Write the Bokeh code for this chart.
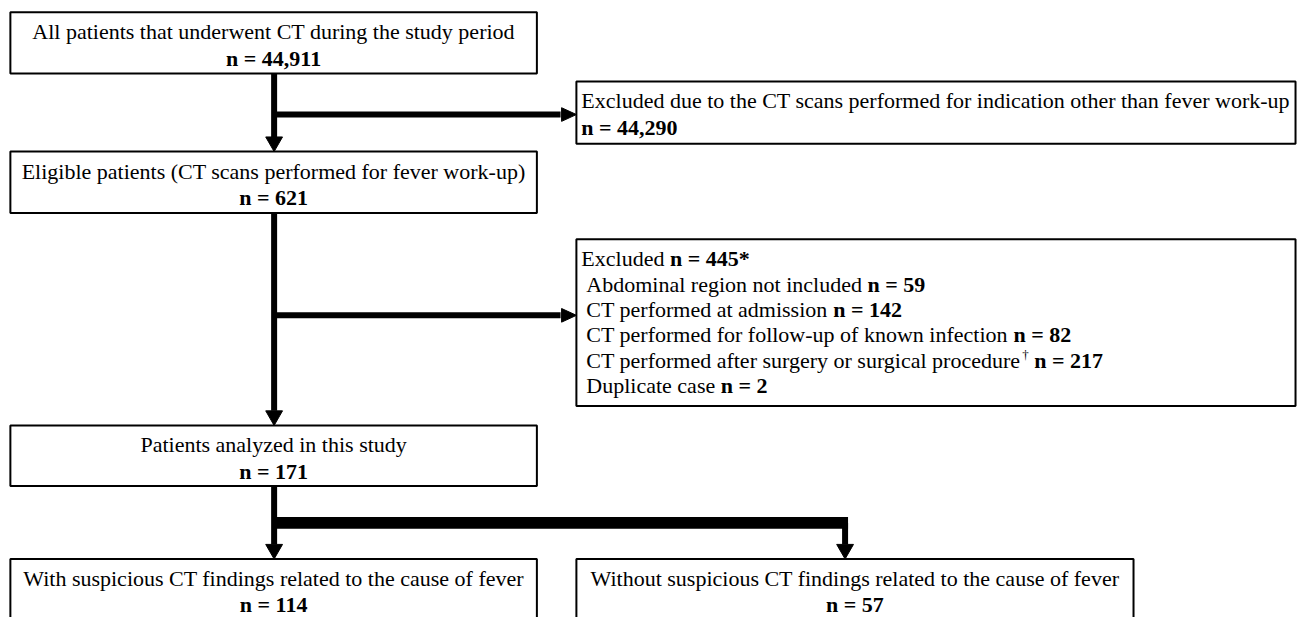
from bokeh.plotting import figure
from bokeh.models import Range1d
from bokeh.core.properties import value
from bokeh.embed import file_html
from bokeh.resources import INLINE

# ---------------- data ----------------
main_labels = ["All patients that underwent CT during the study period",
               "Eligible patients (CT scans performed for fever work-up)",
               "Patients analyzed in this study"]
main_n = [44911, 621, 171]
excl1_label = "Excluded due to the CT scans performed for indication other than fever work-up"
excl1_n = 44290
excl2_head = "Excluded"
excl2_total = "445*"
excl2_reasons = ["Abdominal region not included",
                 "CT performed at admission",
                 "CT performed for follow-up of known infection",
                 "CT performed after surgery or surgical procedure",
                 "Duplicate case"]
excl2_n = [59, 142, 82, 217, 2]
excl2_marks = ["", "", "", "\u2020", ""]
group_labels = ["With suspicious CT findings related to the cause of fever",
                "Without suspicious CT findings related to the cause of fever"]
group_n = [114, 57]

# ---------------- layout ----------------
FONT = value("Liberation Serif")
FS = 22
W, H = 1297, 617
SX = W / 1313.0   # px per data unit horizontally

TR = {' ': 250, '-': 333, '(': 333, ')': 333, ',': 250, '.': 250, '=': 564, '*': 500, '\u2020': 500}
for c, w in zip("ABCDEFGHIJKLMNOPQRSTUVWXYZ",
                [722, 667, 667, 722, 611, 556, 722, 722, 333, 389, 722, 611, 889, 722, 722, 556, 722, 667, 556, 611, 722, 722, 944, 722, 722, 611]):
    TR[c] = w
for c, w in zip("abcdefghijklmnopqrstuvwxyz",
                [444, 500, 444, 500, 444, 333, 500, 500, 278, 278, 500, 278, 778, 500, 500, 500, 500, 333, 389, 278, 500, 500, 722, 500, 500, 444]):
    TR[c] = w
for d in "0123456789":
    TR[d] = 500


def tw(s, size=FS):
    return sum(TR.get(c, 500) for c in s) * size / 1000.0 / SX


def nstr(n):
    return "n = " + format(n, ",") if isinstance(n, int) else "n = " + n


p = figure(width=W, height=H, x_range=Range1d(0, 1313), y_range=Range1d(633, 0),
           output_backend="svg", toolbar_location=None, x_axis_type=None, y_axis_type=None,
           min_border=0)
p.grid.visible = False
p.outline_line_color = None
p.background_fill_color = "white"

LW = 6
CX = 277
CX2 = 855

# boxes: left, right, top, bottom
main_boxes = [(10, 543, 12, 75), (10, 543, 155, 218), (10, 543, 436, 498)]
group_boxes = [(10, 543, 573, 700), (583, 1147, 573, 700)]
excl_boxes = [(583, 1311, 83, 147), (583, 1311, 245, 416)]
allb = main_boxes + group_boxes + excl_boxes
p.quad(left=[b[0] for b in allb], right=[b[1] for b in allb],
       top=[b[2] for b in allb], bottom=[b[3] for b in allb],
       fill_color="white", line_color="black", line_width=2)

# connector lines
AH = 15
AW = 8.5
segs = [
    (CX, 75, CX, 155 - AH),
    (CX, 117, 582 - AH, 117),
    (CX, 218, CX, 436 - AH),
    (CX, 323, 582 - AH, 323),
    (CX, 498, CX, 573 - AH),
    (CX2, 536, CX2, 573 - AH),
]
p.segment(x0=[s[0] for s in segs], y0=[s[1] for s in segs], x1=[s[2] for s in segs], y1=[s[3] for s in segs],
          line_color="black", line_width=LW, line_cap="butt")
# thick bar
p.quad(left=[CX], right=[CX2 + 3], top=[530], bottom=[542], fill_color="black", line_color=None)

# arrow heads
xs, ys = [], []
for (tx, ty) in [(CX, 155), (CX, 436), (CX, 573), (CX2, 573)]:
    xs.append([tx - AW, tx + AW, tx])
    ys.append([ty - AH, ty - AH, ty])
for (tx, ty) in [(583, 117), (583, 323)]:
    xs.append([tx - AH, tx - AH, tx])
    ys.append([ty - AW + 1.5, ty + AW - 1.5, ty])
p.patches(xs=xs, ys=ys, fill_color="black", line_color="black", line_width=1)

L1, L2 = 20, 47

# centered boxes
cx_list, cy_list, t_list = [], [], []
bx_list, by_list, bt_list = [], [], []
for (l, r, t, b), lab, n in zip(main_boxes + group_boxes, main_labels + group_labels, main_n + group_n):
    c = (l + r) / 2
    cx_list.append(c); cy_list.append(t + L1); t_list.append(lab)
    bx_list.append(c); by_list.append(t + L2); bt_list.append(nstr(n))
p.text(x=cx_list, y=cy_list, text=t_list, text_align="center", text_baseline="middle",
       text_font=FONT, text_font_size=value(f"{FS}px"), text_color="black")
p.text(x=bx_list, y=by_list, text=bt_list, text_align="center", text_baseline="middle",
       text_font=FONT, text_font_size=value(f"{FS}px"), text_font_style="bold", text_color="black")

# excluded box 1
TX = 588
p.text(x=[TX], y=[83 + L1], text=[excl1_label], text_align="left", text_baseline="middle",
       text_font=FONT, text_font_size=value(f"{FS}px"), text_color="black")
p.text(x=[TX], y=[83 + L2], text=[nstr(excl1_n)], text_align="left", text_baseline="middle",
       text_font=FONT, text_font_size=value(f"{FS}px"), text_font_style="bold", text_color="black")

# excluded box 2
top2 = 245
DY = 26
rx, ry, rt = [TX], [top2 + L1], [excl2_head]
bx, by, bt = [TX + tw(excl2_head + " ")], [top2 + L1], [nstr(excl2_total)]
mx, my, mt = [], [], []
for i, (lab, n, m) in enumerate(zip(excl2_reasons, excl2_n, excl2_marks)):
    y = top2 + L1 + DY * (i + 1)
    x0 = TX + 5 / SX
    rx.append(x0); ry.append(y); rt.append(lab)
    off = tw(lab)
    if m:
        mx.append(x0 + off + 1 / SX); my.append(y - 6); mt.append(m)
        off += tw(m, 13) + 1 / SX
    bx.append(x0 + off + tw(" ")); by.append(y); bt.append(nstr(n))
p.text(x=rx, y=ry, text=rt, text_align="left", text_baseline="middle",
       text_font=FONT, text_font_size=value(f"{FS}px"), text_color="black")
p.text(x=bx, y=by, text=bt, text_align="left", text_baseline="middle",
       text_font=FONT, text_font_size=value(f"{FS}px"), text_font_style="bold", text_color="black")
p.text(x=mx, y=my, text=mt, text_align="left", text_baseline="middle",
       text_font=FONT, text_font_size=value("13px"), text_color="black")

open("out.html", "w").write(file_html(p, INLINE))
